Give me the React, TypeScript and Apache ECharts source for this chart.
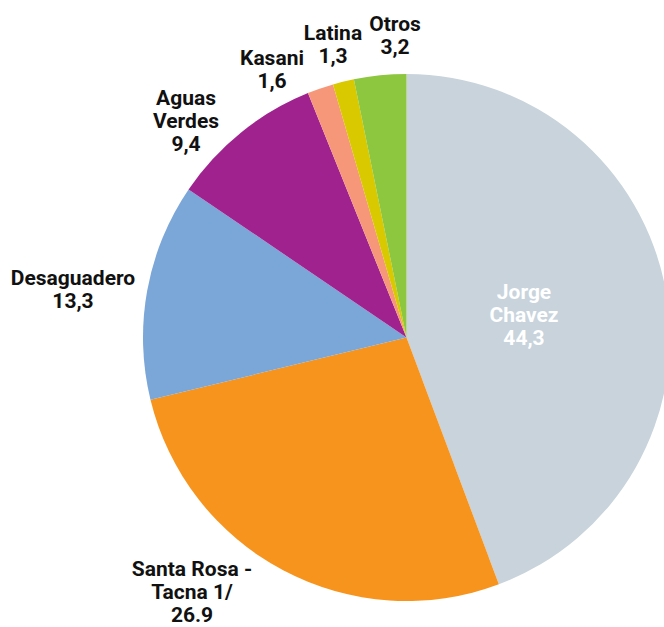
import React, { useEffect, useRef } from "react";
import * as echarts from "echarts";

// Data
const CATEGORIES = [
  "Jorge\nChavez",
  "Santa Rosa -\nTacna 1/",
  "Desaguadero",
  "Aguas\nVerdes",
  "Kasani",
  "Latina",
  "Otros",
];
const VALUES = [44.3, 26.9, 13.3, 9.4, 1.6, 1.3, 3.2];
const DECIMAL_SEP = [",", ".", ",", ",", ",", ",", ","];

// Styles / layout
const COLORS = ["#c8d3dc", "#f7941d", "#7ba6d8", "#a0228e", "#f7977a", "#d8c900", "#8dc63f"];
const LABEL_COLORS = ["#ffffff", "#111111", "#111111", "#111111", "#111111", "#111111", "#111111"];
const LABEL_POS: [number, number][] = [
  [524, 315],
  [192, 592],
  [73, 289],
  [186, 121],
  [272, 69],
  [333, 44],
  [395, 35],
];

export default function App() {
  const ref = useRef<HTMLDivElement>(null);
  useEffect(() => {
    if (!ref.current) return;
    const chart = echarts.init(ref.current, undefined, { renderer: "svg" });
    chart.setOption({
      animation: false,
      backgroundColor: "#ffffff",
      series: [
        {
          type: "pie",
          center: [406.5, 337.5],
          radius: 263.5,
          startAngle: 90,
          clockwise: true,
          avoidLabelOverlap: false,
          itemStyle: { borderWidth: 0 },
          label: {
            show: true,
            position: "outside",
            fontFamily: "Roboto, 'DejaVu Sans', sans-serif",
            fontWeight: "bold",
            fontSize: 21,
            lineHeight: 23,
            align: "center",
            formatter: (p: any) =>
              `${p.name}\n${VALUES[p.dataIndex].toFixed(1).replace(".", DECIMAL_SEP[p.dataIndex])}`,
          },
          labelLine: { show: false },
          labelLayout: (p: any) => ({
            x: LABEL_POS[p.dataIndex][0],
            y: LABEL_POS[p.dataIndex][1],
            align: "center",
            verticalAlign: "middle",
          }),
          data: CATEGORIES.map((name, i) => ({
            name,
            value: VALUES[i],
            itemStyle: { color: COLORS[i] },
            label: { color: LABEL_COLORS[i] },
          })),
        },
      ],
    });
    return () => chart.dispose();
  }, []);
  return (
    <div
      ref={ref}
      style={{ position: "fixed", left: 0, top: 0, width: 664, height: 627 }}
    />
  );
}
